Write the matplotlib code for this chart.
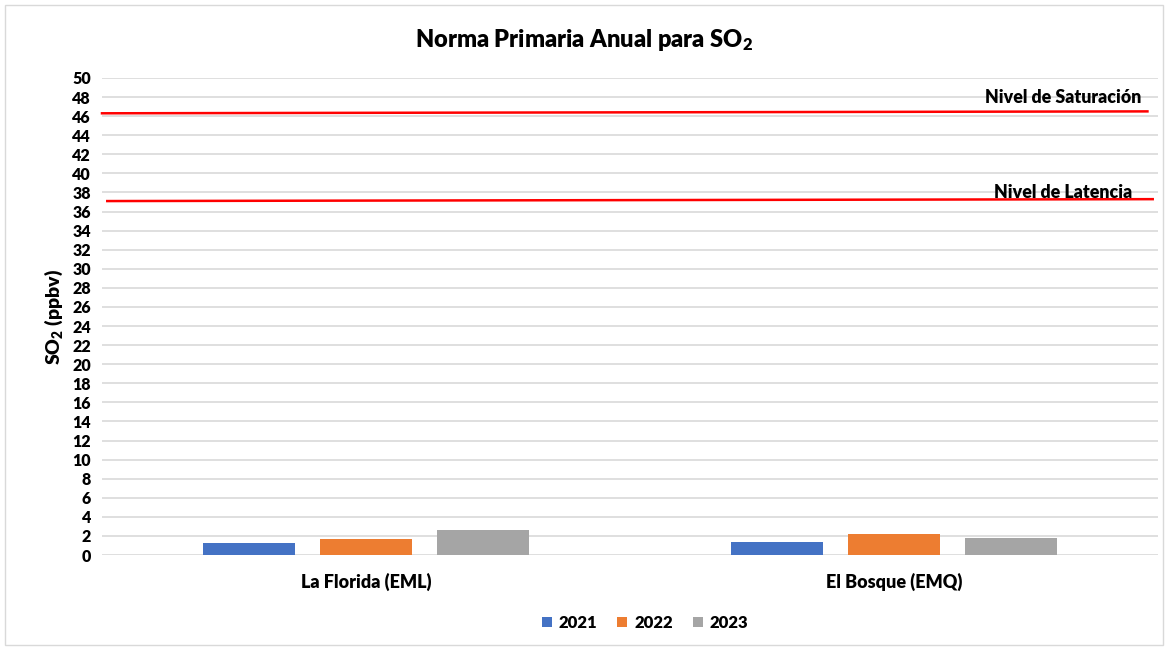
import numpy as np
import matplotlib.pyplot as plt
from matplotlib.patches import Rectangle

# datos
estaciones = ["La Florida (EML)", "El Bosque (EMQ)"]
anios = ["2021", "2022", "2023"]
so2_2021 = [1.3, 1.4]
so2_2022 = [1.7, 2.2]
so2_2023 = [2.6, 1.8]
colores = ["#4472C4", "#ED7D31", "#A5A5A5"]

# lineas de la norma (extremo izquierdo, extremo derecho)
nivel_saturacion = [46.3, 46.5]
nivel_latencia = [37.1, 37.3]

peso = 'heavy'
plt.rcParams['font.family'] = ['Lato', 'DejaVu Sans']
plt.rcParams['font.weight'] = peso
plt.rcParams['mathtext.fontset'] = 'custom'
plt.rcParams['mathtext.rm'] = 'Lato:heavy'
plt.rcParams['mathtext.bf'] = 'Lato:heavy'
plt.rcParams['mathtext.default'] = 'bf'

fig = plt.figure(figsize=(11.69, 6.49), dpi=100)
ax = fig.add_axes([102/1169, 1-555/649, (1158-102)/1169, (555-78)/649])

x = np.arange(len(estaciones))
ancho = 0.174
paso = 0.222
series = [so2_2021, so2_2022, so2_2023]
for i, (vals, c, a) in enumerate(zip(series, colores, anios)):
    ax.bar(x + (i-1)*paso, vals, width=ancho, color=c, label=a, zorder=3)

ax.set_xlim(-0.5, 1.5)
ax.set_ylim(0, 50)
ax.set_yticks(np.arange(0, 51, 2))
ax.set_xticks(x)
ax.set_xticklabels(estaciones, fontsize=13, fontweight=peso)
ax.tick_params(axis='y', labelsize=11.5, length=0, pad=8)
for t in ax.get_yticklabels():
    t.set_fontweight(peso)
ax.tick_params(axis='x', length=0, pad=13)
for s in ax.spines.values():
    s.set_visible(False)
ax.grid(axis='y', color='#D9D9D9', linewidth=1.2, zorder=0)
ax.set_axisbelow(True)

# lineas rojas de la norma
ax.plot([-0.5, 1.48], nivel_saturacion, color='red', linewidth=1.8, zorder=4, clip_on=False)
ax.plot([-0.49, 1.49], nivel_latencia, color='red', linewidth=1.8, zorder=4, clip_on=False)
ax.text(1.32, nivel_saturacion[1] + 0.6, "Nivel de Saturación", fontsize=12.8,
        fontweight=peso, ha='center', va='bottom', zorder=5)
ax.text(1.32, nivel_latencia[1] - 0.2, "Nivel de Latencia", fontsize=12.8,
        fontweight=peso, ha='center', va='bottom', zorder=5)

ax.set_ylabel(r"SO$_2$ (ppbv)", fontsize=14, fontweight=peso, labelpad=5)
fig.text(0.5, 1-40/649, r"Norma Primaria Anual para SO$_2$", fontsize=17,
         fontweight=peso, ha='center', va='center')

leg = fig.legend(loc='center', bbox_to_anchor=(645/1169, 1-623/649), ncol=3,
                 frameon=False, fontsize=12, handlelength=0.6, handleheight=0.6,
                 columnspacing=1.2, handletextpad=0.4)
for t in leg.get_texts():
    t.set_fontweight(peso)

# marco exterior
fig.patches.append(Rectangle((5/1169, 4/649), 1158/1169, 640/649, transform=fig.transFigure,
                             fill=False, edgecolor='#D9D9D9', linewidth=1))

fig.savefig("out.png", dpi=100)
